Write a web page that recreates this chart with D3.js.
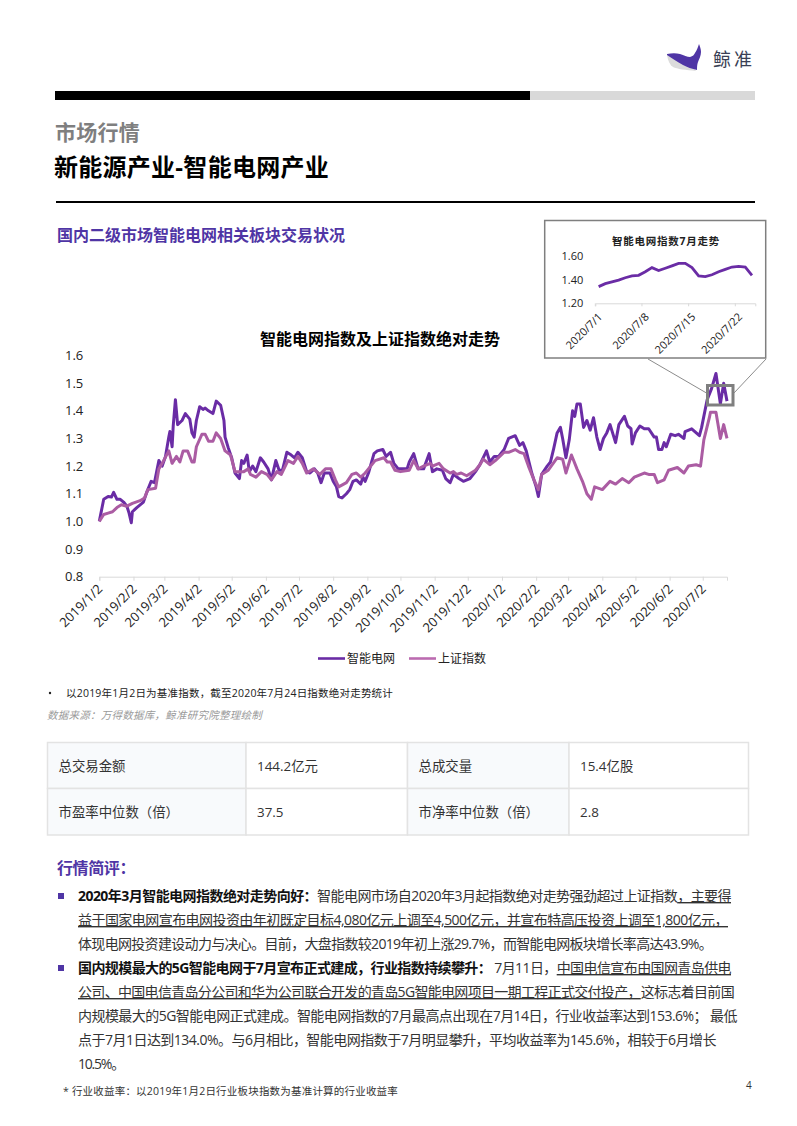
<!DOCTYPE html>
<html>
<head>
<meta charset="utf-8">
<script src="https://cdn.jsdelivr.net/npm/d3@7"></script>
<style>
html, body { margin: 0; padding: 0; background: #fff; }
svg { display: block; }
text { font-family: "Open Sans", "Noto Sans CJK SC", sans-serif; }
</style>
</head>
<body>
<svg id="page" width="797" height="1126"></svg>
<script>
// days counted from 2019/1/2
var baseDate = new Date(2019, 0, 2);
var gridDays = [0,2,4,8,11,13,16,19,22,25,27,29,30,34,40,43,47,50,52,54,57,60,63,64,66,67,69,71,75,78,82,84,86,88,91,94,96,99,103,106,110,113,114,117,120,123,127,129,131,134,136,139,142,146,149,153,156,160,163,166,170,174,177,180,184,188,191,195,198,201,204,209,212,215,217,220,224,227,230,233,237,239,241,244,249,252,257,260,264,267,271,279,281,285,289,294,299,302,306,311,314,318,321,326,330,336,341,345,351,354,358,362,367,371,377,381,384,387,392,396,398,401,406,409,412,415,418,420,423,426,429,431,433,436,439,442,445,448,451,454,457,460,463,468,471,476,479,482,483,486,490,494,498,503,505,507,510,512,514,518,522,525,530,531,537,544,546,551,555,559,563,566,569];
var gridValues = [1.00,1.04,1.08,1.09,1.088,1.105,1.08,1.08,1.07,1.055,1.03,0.995,1.035,1.05,1.07,1.105,1.145,1.14,1.18,1.22,1.20,1.235,1.305,1.325,1.27,1.345,1.44,1.35,1.365,1.39,1.37,1.32,1.305,1.365,1.415,1.405,1.41,1.40,1.39,1.435,1.42,1.365,1.305,1.265,1.23,1.175,1.155,1.22,1.21,1.24,1.18,1.20,1.18,1.23,1.215,1.19,1.15,1.22,1.185,1.185,1.25,1.24,1.23,1.25,1.23,1.18,1.175,1.19,1.175,1.14,1.175,1.175,1.145,1.125,1.09,1.085,1.10,1.115,1.145,1.15,1.135,1.16,1.145,1.175,1.245,1.255,1.26,1.235,1.25,1.21,1.19,1.19,1.215,1.245,1.19,1.19,1.245,1.18,1.19,1.185,1.155,1.14,1.17,1.155,1.145,1.155,1.18,1.205,1.255,1.215,1.235,1.235,1.26,1.30,1.31,1.275,1.285,1.255,1.175,1.125,1.09,1.17,1.20,1.215,1.265,1.32,1.34,1.30,1.23,1.295,1.40,1.38,1.425,1.425,1.34,1.365,1.33,1.375,1.305,1.26,1.30,1.32,1.35,1.285,1.35,1.38,1.345,1.335,1.28,1.32,1.345,1.335,1.335,1.305,1.305,1.26,1.26,1.285,1.27,1.315,1.31,1.315,1.30,1.325,1.335,1.31,1.34,1.44,1.48,1.535,1.425,1.50,1.435];
var szDays = [0,4,8,12,16,20,25,30,37,41,44,51,54,57,63,66,70,73,76,80,84,86,88,93,96,99,103,106,110,114,119,123,127,131,135,137,142,147,152,156,161,165,171,176,180,184,188,194,200,205,210,214,217,224,229,233,237,241,246,250,258,261,264,268,273,281,285,289,294,300,302,308,312,318,321,324,328,333,341,345,348,354,359,367,371,377,381,385,389,394,398,401,407,415,420,423,428,433,438,442,446,449,456,463,468,474,480,485,494,498,503,506,512,516,524,530,534,541,545,548,553,554,559,563,566,569];
var szValues = [1.00,1.025,1.03,1.035,1.05,1.06,1.055,1.065,1.075,1.085,1.115,1.12,1.19,1.21,1.255,1.21,1.235,1.215,1.255,1.255,1.215,1.215,1.27,1.315,1.315,1.29,1.29,1.32,1.30,1.255,1.24,1.18,1.18,1.18,1.19,1.17,1.16,1.18,1.17,1.15,1.18,1.17,1.22,1.21,1.235,1.21,1.175,1.19,1.17,1.19,1.19,1.15,1.125,1.14,1.17,1.175,1.16,1.175,1.20,1.22,1.23,1.215,1.215,1.185,1.18,1.185,1.22,1.19,1.20,1.21,1.20,1.21,1.19,1.175,1.18,1.17,1.175,1.165,1.185,1.205,1.225,1.205,1.22,1.25,1.25,1.26,1.25,1.245,1.20,1.15,1.115,1.17,1.185,1.23,1.225,1.175,1.24,1.19,1.145,1.10,1.08,1.125,1.115,1.145,1.135,1.155,1.14,1.16,1.175,1.17,1.17,1.14,1.15,1.185,1.195,1.175,1.20,1.205,1.20,1.295,1.375,1.395,1.395,1.30,1.35,1.30];
var yTicks = [0.8,0.9,1.0,1.1,1.2,1.3,1.4,1.5,1.6];
var xTickMonths = ["2019/1/2","2019/2/2","2019/3/2","2019/4/2","2019/5/2","2019/6/2","2019/7/2","2019/8/2","2019/9/2","2019/10/2","2019/11/2","2019/12/2","2020/1/2","2020/2/2","2020/3/2","2020/4/2","2020/5/2","2020/6/2","2020/7/2"];

// inset, July 2020
var julyDays = ["2020/7/1","2020/7/2","2020/7/3","2020/7/4","2020/7/5","2020/7/6","2020/7/7","2020/7/8","2020/7/9","2020/7/10","2020/7/11","2020/7/12","2020/7/13","2020/7/14","2020/7/15","2020/7/16","2020/7/17","2020/7/18","2020/7/19","2020/7/20","2020/7/21","2020/7/22","2020/7/23","2020/7/24"];
var julyValues = [1.34,1.365,1.38,1.395,1.415,1.43,1.435,1.465,1.50,1.475,1.495,1.515,1.535,1.536,1.50,1.43,1.425,1.44,1.465,1.485,1.505,1.51,1.505,1.435];
var julyTicks = ["2020/7/1","2020/7/8","2020/7/15","2020/7/22"];
var julyYTicks = [1.2,1.4,1.6];

var tableRows = [["总交易金额","144.2亿元","总成交量","15.4亿股"],["市盈率中位数（倍）","37.5","市净率中位数（倍）","2.8"]];

var purple = "#6a2ca5", pink = "#ab5ca3", brand = "#4f35a5";
var svg = d3.select("#page");

// text helper, stretches the line to the width it has in the picture
function fit(sel, width) {
    var node = sel.node();
    var n = node.textContent.length;
    sel.attr("letter-spacing", (width - node.getComputedTextLength()) / n);
    return sel;
}
function label(x, y, str, size, opts) {
    opts = opts || {};
    var t = svg.append("text").attr("x", x).attr("y", y).attr("font-size", size)
        .attr("fill", opts.fill || "#222").attr("font-weight", opts.bold ? 700 : 400)
        .attr("font-style", opts.italic ? "italic" : "normal")
        .attr("text-anchor", opts.anchor || "start").text(str);
    if (opts.width) fit(t, opts.width);
    return t;
}

// header
svg.append("rect").attr("x", 55).attr("y", 91).attr("width", 475).attr("height", 9).attr("fill", "#000");
svg.append("rect").attr("x", 530).attr("y", 91).attr("width", 225).attr("height", 9).attr("fill", "#d9d9d9");
svg.append("path").attr("fill", "#dcdcdc")
    .attr("d", "M667,55 C668,61 670,65 673,67 C677,69 686,70 696,71 L690,62 L670,54 Z");
svg.append("path").attr("fill", brand)
    .attr("d", "M667,54 C672,53 676,53 680,54 C684,55 687,57 690,57 C693,56 694,55 695,53 C697,50 698,47 699,44 C700,47 701,49 701,52 C701,56 699,59 698,62 C697,65 697,67 697,70 C692,69 687,67 683,65 C677,62 672,58 667,55 Z");
label(713, 66, "鲸准", 18, {fill: "#3a3f55", width: 42});
label(55, 140, "市场行情", 21, {fill: "#7f7f7f", bold: true, width: 85});
label(54, 176, "新能源产业-智能电网产业", 24, {fill: "#000", bold: true, width: 275});
svg.append("rect").attr("x", 56).attr("y", 201).attr("width", 699).attr("height", 2).attr("fill", "#000");
label(57, 241, "国内二级市场智能电网相关板块交易状况", 16, {fill: brand, bold: true, width: 288});

// main chart
var x = d3.scaleTime().domain([baseDate, d3.timeDay.offset(baseDate, 569)]).range([99.3, 727]);
var y = d3.scaleLinear().domain([0.8, 1.6]).range([576.7, 355.5]);
var parseDay = d3.timeParse("%Y/%-m/%-d");

label(260, 345, "智能电网指数及上证指数绝对走势", 16, {fill: "#000", bold: true, width: 240});

var yAxis = svg.append("g").attr("transform", "translate(99.3,0)")
    .call(d3.axisLeft(y).tickValues(yTicks).tickFormat(d3.format(".1f")).tickSize(0).tickPadding(16));
yAxis.select(".domain").remove();
yAxis.selectAll("text").attr("font-size", 13).attr("fill", "#222").style("font-family", '"Open Sans"');

var xAxis = svg.append("g").attr("transform", "translate(0,576.7)")
    .call(d3.axisBottom(x).tickValues(xTickMonths.map(parseDay)).tickFormat(d3.timeFormat("%Y/%-m/%-d")).tickSizeOuter(0).tickSize(4));
xAxis.select(".domain").attr("stroke", "#d9d9d9").attr("stroke-width", 1);
xAxis.selectAll("line").attr("stroke", "#d9d9d9");
xAxis.selectAll("text").attr("font-size", 13).attr("fill", "#222")
    .style("font-family", '"Open Sans"').attr("text-anchor", "end")
    .attr("transform", "rotate(-45)").attr("dx", "-6.7").attr("dy", "4.7");

var line = d3.line().x(function(d) { return x(d3.timeDay.offset(baseDate, d[0])); }).y(function(d) { return y(d[1]); });
svg.append("path").datum(d3.zip(gridDays, gridValues)).attr("d", line)
    .attr("fill", "none").attr("stroke", purple).attr("stroke-width", 3).attr("stroke-linejoin", "round");
svg.append("path").datum(d3.zip(szDays, szValues)).attr("d", line)
    .attr("fill", "none").attr("stroke", pink).attr("stroke-width", 3).attr("stroke-linejoin", "round");

// legend
[[318, "智能电网", purple], [409, "上证指数", "#bb6bb0"]].forEach(function(l) {
    svg.append("line").attr("x1", l[0]).attr("x2", l[0] + 27).attr("y1", 658.5).attr("y2", 658.5)
        .attr("stroke", l[2]).attr("stroke-width", 2.6);
    label(l[0] + 29, 663, l[1], 12, {fill: "#222", width: 48});
});

// highlight box and inset
svg.append("rect").attr("x", 707.5).attr("y", 385.5).attr("width", 25.5).attr("height", 19.5)
    .attr("fill", "none").attr("stroke", "#7f7f7f").attr("stroke-width", 3);
svg.append("line").attr("x1", 648).attr("y1", 359).attr("x2", 706.5).attr("y2", 393).attr("stroke", "#8c8c8c");
svg.append("line").attr("x1", 766).attr("y1", 359).attr("x2", 734).attr("y2", 393).attr("stroke", "#8c8c8c");
svg.append("rect").attr("x", 544.7).attr("y", 220.5).attr("width", 221).attr("height", 137.5)
    .attr("fill", "#fff").attr("stroke", "#7f7f7f").attr("stroke-width", 1.5);
label(612, 245, "智能电网指数7月走势", 10.5, {fill: "#222", bold: true, width: 108});

var insetX = d3.scaleBand().domain(julyDays).range([595.3, 755.3]);
var insetY = d3.scaleLinear().domain([1.2, 1.6]).range([303.3, 255.7]);
var insetYAxis = svg.append("g").attr("transform", "translate(595.3,0)")
    .call(d3.axisLeft(insetY).tickValues(julyYTicks).tickFormat(d3.format(".2f")).tickSize(0).tickPadding(12));
insetYAxis.select(".domain").remove();
insetYAxis.selectAll("text").attr("font-size", 11).attr("fill", "#222").style("font-family", '"Open Sans"');
var insetXAxis = svg.append("g").attr("transform", "translate(0,303.3)")
    .call(d3.axisBottom(insetX).tickValues(julyTicks).tickSizeOuter(0).tickSize(3));
insetXAxis.select(".domain").attr("stroke", "#d9d9d9");
insetXAxis.selectAll(".tick").attr("transform", function(d) { return "translate(" + insetX(d) + ",0)"; });
insetXAxis.selectAll("line").attr("stroke", "#d9d9d9");
insetXAxis.selectAll("text").attr("font-size", 11).attr("fill", "#222")
    .style("font-family", '"Open Sans"').attr("text-anchor", "end")
    .attr("transform", "rotate(-45)").attr("dx", "-4.7").attr("dy", "9.5");
svg.append("path").datum(julyValues)
    .attr("d", d3.line().x(function(d, i) { return insetX(julyDays[i]) + insetX.bandwidth() / 2; }).y(function(d) { return insetY(d); }))
    .attr("fill", "none").attr("stroke", purple).attr("stroke-width", 2.8);

// notes
svg.append("circle").attr("cx", 50).attr("cy", 693).attr("r", 1.2).attr("fill", "#222");
label(66, 697, "以2019年1月2日为基准指数，截至2020年7月24日指数绝对走势统计", 10.5, {fill: "#222", width: 327});
label(47, 719, "数据来源：万得数据库，鲸准研究院整理绘制", 10.5, {fill: "#9a9a9a", italic: true, width: 215});

// table
var colX = [47.5, 246, 407.5, 569, 748.5], rowY = [742.5, 788.5, 835];
tableRows.forEach(function(row, r) {
    row.forEach(function(cell, c) {
        svg.append("rect").attr("x", colX[c]).attr("y", rowY[r]).attr("width", colX[c + 1] - colX[c]).attr("height", rowY[r + 1] - rowY[r])
            .attr("fill", c % 2 == 0 ? "#f8fafc" : "#fff").attr("stroke", "#e3e3e3").attr("stroke-width", 1.5);
        label(colX[c] + 11, rowY[r] + 28, cell, 13.4, {fill: "#333"});
    });
});

// commentary
label(57, 874, "行情简评：", 16, {fill: brand, bold: true, width: 78});
svg.append("rect").attr("x", 58).attr("y", 893).attr("width", 6).attr("height", 6).attr("fill", brand);
svg.append("rect").attr("x", 58).attr("y", 965).attr("width", 6).attr("height", 6).attr("fill", brand);

var lines = [
    [901, 653, [["2020年3月智能电网指数绝对走势向好：", "b"], ["智能电网市场自2020年3月起指数绝对走势强劲超过上证指数", ""], ["，主要得", "u"]]],
    [925, 650, [["益于国家电网宣布电网投资由年初既定目标4,080亿元上调至4,500亿元，并宣布特高压投资上调至1,800亿元，", "u"]]],
    [949, 634, [["体现电网投资建设动力与决心。目前，大盘指数较2019年初上涨29.7%，而智能电网板块增长率高达43.9%。", ""]]],
    [973, 653, [["国内规模最大的5G智能电网于7月宣布正式建成，行业指数持续攀升：", "b"], [" 7月11日，", ""], ["中国电信宣布由国网青岛供电", "u"]]],
    [997, 656, [["公司、中国电信青岛分公司和华为公司联合开发的青岛5G智能电网项目一期工程正式交付投产，", "u"], ["这标志着目前国", ""]]],
    [1021, 659, [["内规模最大的5G智能电网正式建成。智能电网指数的7月最高点出现在7月14日，行业收益率达到153.6%； 最低", ""]]],
    [1045, 638, [["点于7月1日达到134.0%。与6月相比，智能电网指数于7月明显攀升，平均收益率为145.6%，相较于6月增长", ""]]],
    [1069, 46, [["10.5%。", ""]]]
];
lines.forEach(function(l) {
    var t = svg.append("text").attr("x", 78).attr("y", l[0]).attr("font-size", 14).attr("fill", "#333");
    l[2].forEach(function(s) {
        var span = t.append("tspan").text(s[0]);
        if (s[1] == "b") span.attr("font-weight", 700).attr("fill", "#111");
        if (s[1] == "u") span.style("text-decoration", "underline");
    });
    fit(t, l[1]);
});

label(63, 1095, "* 行业收益率：以2019年1月2日行业板块指数为基准计算的行业收益率", 10.5, {fill: "#333", width: 335});
label(746, 1089, "4", 10, {fill: "#333"});
</script>
</body>
</html>
